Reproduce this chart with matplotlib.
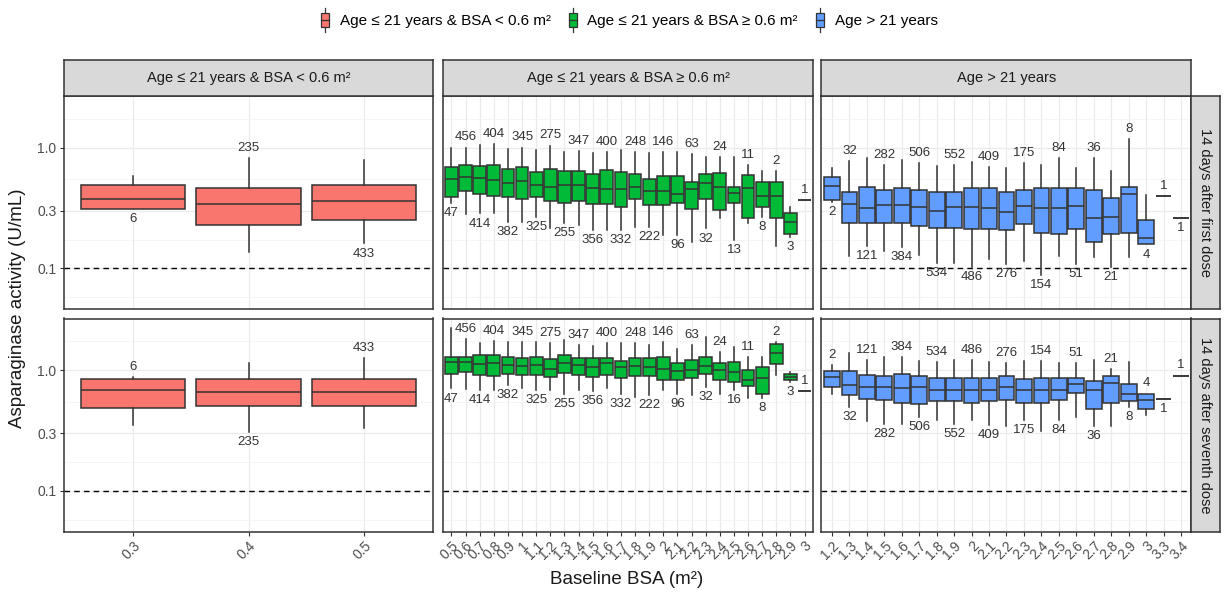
import numpy as np
import matplotlib
matplotlib.use('Agg')
import matplotlib.pyplot as plt
from matplotlib.patches import Patch, Rectangle
from matplotlib.lines import Line2D
from matplotlib.legend_handler import HandlerBase
from matplotlib.ticker import NullFormatter

plt.rcParams['font.family'] = ['Liberation Sans', 'DejaVu Sans']

groups = ['Age ≤ 21 years & BSA < 0.6 m²', 'Age ≤ 21 years & BSA ≥ 0.6 m²', 'Age > 21 years']
colors = ['#F8766D', '#00BA38', '#619CFF']
rows = ['14 days after first dose', '14 days after seventh dose']

# x categories (baseline BSA) per panel
bsa_1 = ['0.3', '0.4', '0.5']
bsa_2 = ['0.5', '0.6', '0.7', '0.8', '0.9', '1', '1.1', '1.2', '1.3', '1.4', '1.5', '1.6', '1.7',
         '1.8', '1.9', '2', '2.1', '2.2', '2.3', '2.4', '2.5', '2.6', '2.7', '2.8', '2.9', '3']
bsa_3 = ['1.2', '1.3', '1.4', '1.5', '1.6', '1.7', '1.8', '1.9', '2', '2.1', '2.2', '2.3', '2.4',
         '2.5', '2.6', '2.7', '2.8', '2.9', '3', '3.3', '3.4']

# sample sizes
n_1 = [6, 235, 433]
n_2_first = [47, 456, 414, 404, 382, 345, 325, 275, 255, 347, 356, 400, 332, 248, 222, 146, 96,
             63, 32, 24, 13, 11, 8, 2, 3, 1]
n_2_seventh = [47, 456, 414, 404, 382, 345, 325, 275, 255, 347, 356, 400, 332, 248, 222, 146, 96,
               63, 32, 24, 16, 11, 8, 2, 3, 1]
n_3 = [2, 32, 121, 282, 384, 506, 534, 552, 486, 409, 276, 175, 154, 84, 51, 36, 21, 8, 4, 1, 1]

# box stats: (whisker low, q1, median, q3, whisker high), U/mL
p1_first = [(0.31, 0.31, 0.375, 0.49, 0.58),
            (0.137, 0.228, 0.341, 0.466, 0.816),
            (0.161, 0.251, 0.364, 0.49, 0.79)]
p1_seventh = [(0.354, 0.487, 0.682, 0.837, 0.88),
              (0.308, 0.503, 0.661, 0.837, 1.15),
              (0.332, 0.503, 0.661, 0.837, 1.266)]

p2_first = [(0.35, 0.388, 0.546, 0.686, 1.0), (0.282, 0.44, 0.568, 0.713, 1.0),
            (0.285, 0.41, 0.557, 0.705, 1.05), (0.289, 0.397, 0.54, 0.713, 1.07),
            (0.243, 0.388, 0.506, 0.661, 0.97), (0.243, 0.373, 0.526, 0.686, 1.0),
            (0.268, 0.388, 0.493, 0.628, 0.957), (0.214, 0.364, 0.475, 0.665, 1.04),
            (0.236, 0.35, 0.493, 0.644, 0.926), (0.228, 0.364, 0.493, 0.644, 0.938),
            (0.207, 0.341, 0.463, 0.605, 0.897), (0.207, 0.341, 0.454, 0.648, 0.926),
            (0.207, 0.32, 0.451, 0.628, 0.957), (0.221, 0.378, 0.475, 0.608, 0.926),
            (0.221, 0.332, 0.437, 0.553, 0.897), (0.189, 0.332, 0.44, 0.582, 0.926),
            (0.189, 0.345, 0.413, 0.582, 0.926), (0.166, 0.312, 0.451, 0.519, 0.886),
            (0.214, 0.378, 0.506, 0.605, 0.842), (0.259, 0.304, 0.475, 0.612, 0.842),
            (0.171, 0.345, 0.423, 0.475, 0.842), (0.238, 0.259, 0.46, 0.589, 0.718),
            (0.268, 0.32, 0.397, 0.516, 0.64), (0.153, 0.259, 0.397, 0.522, 0.64),
            (0.183, 0.192, 0.243, 0.285, 0.324), (0.368, 0.368, 0.368, 0.368, 0.368)]
p2_seventh = [(0.705, 0.938, 1.158, 1.29, 2.22), (0.696, 0.969, 1.158, 1.29, 1.797),
              (0.682, 0.909, 1.114, 1.332, 1.686), (0.682, 0.897, 1.136, 1.332, 1.752),
              (0.751, 0.926, 1.10, 1.29, 1.718), (0.705, 0.909, 1.079, 1.25, 1.718),
              (0.682, 0.909, 1.10, 1.29, 1.718), (0.682, 0.88, 1.013, 1.226, 1.686),
              (0.64, 0.95, 1.136, 1.332, 1.774), (0.682, 0.909, 1.10, 1.25, 1.613),
              (0.674, 0.88, 1.066, 1.25, 1.582), (0.705, 0.909, 1.136, 1.25, 1.664),
              (0.64, 0.853, 1.052, 1.195, 1.664), (0.601, 0.892, 1.079, 1.25, 1.686),
              (0.62, 0.892, 1.066, 1.25, 1.613), (0.682, 0.826, 1.032, 1.29, 1.718),
              (0.64, 0.826, 0.987, 1.136, 1.484), (0.62, 0.853, 1.0, 1.21, 1.613),
              (0.727, 0.938, 1.079, 1.29, 1.891), (0.64, 0.826, 1.0, 1.15, 1.419),
              (0.682, 0.80, 0.969, 1.173, 1.562), (0.593, 0.737, 0.826, 1.0, 1.29),
              (0.593, 0.64, 0.853, 1.066, 1.29), (0.909, 1.121, 1.375, 1.633, 1.718),
              (0.80, 0.826, 0.88, 0.926, 0.969), (0.669, 0.669, 0.669, 0.669, 0.669)]

p3_first = [(0.357, 0.368, 0.484, 0.575, 0.674), (0.127, 0.238, 0.341, 0.432, 0.78),
            (0.153, 0.238, 0.316, 0.475, 0.816), (0.139, 0.238, 0.332, 0.445, 0.718),
            (0.15, 0.238, 0.332, 0.46, 0.79), (0.13, 0.224, 0.32, 0.445, 0.741),
            (0.11, 0.217, 0.30, 0.429, 0.705), (0.11, 0.217, 0.32, 0.429, 0.718),
            (0.103, 0.21, 0.32, 0.46, 0.765), (0.119, 0.21, 0.314, 0.46, 0.695),
            (0.108, 0.207, 0.291, 0.432, 0.674), (0.116, 0.231, 0.33, 0.445, 0.741),
            (0.088, 0.197, 0.314, 0.46, 0.718), (0.127, 0.191, 0.314, 0.46, 0.816),
            (0.108, 0.21, 0.33, 0.46, 0.674), (0.123, 0.164, 0.259, 0.445, 0.816),
            (0.103, 0.191, 0.268, 0.385, 0.64), (0.123, 0.197, 0.41, 0.475, 1.17),
            (0.158, 0.158, 0.18, 0.251, 0.402), (0.397, 0.397, 0.397, 0.397, 0.397),
            (0.263, 0.263, 0.263, 0.263, 0.263)]
p3_seventh = [(0.64, 0.727, 0.88, 0.981, 1.10), (0.496, 0.62, 0.751, 0.981, 1.393),
              (0.377, 0.582, 0.727, 0.92, 1.21), (0.361, 0.564, 0.727, 0.892, 1.274),
              (0.361, 0.536, 0.718, 0.926, 1.274), (0.41, 0.529, 0.727, 0.892, 1.195),
              (0.385, 0.557, 0.682, 0.853, 1.173), (0.361, 0.557, 0.682, 0.853, 1.21),
              (0.385, 0.536, 0.682, 0.864, 1.21), (0.35, 0.557, 0.682, 0.864, 1.173),
              (0.343, 0.571, 0.727, 0.892, 1.136), (0.385, 0.536, 0.682, 0.837, 1.195),
              (0.314, 0.536, 0.682, 0.869, 1.195), (0.385, 0.571, 0.682, 0.864, 1.136),
              (0.41, 0.648, 0.765, 0.864, 1.136), (0.343, 0.472, 0.682, 0.815, 1.21),
              (0.343, 0.536, 0.785, 0.892, 1.013), (0.496, 0.557, 0.64, 0.775, 1.173),
              (0.423, 0.472, 0.571, 0.64, 0.64), (0.582, 0.582, 0.582, 0.582, 0.582),
              (0.903, 0.903, 0.903, 0.903, 0.903)]

target = 0.1

edge = '#333333'
W, H = 1224, 594
fig = plt.figure(figsize=(W / 100, H / 100), dpi=100)

# panel geometry in pixels
lefts = [63.5, 443, 821.5]
pw = 370
tops = [96, 318.5]
ph = 213


def frac(x, y, w, h):
    return [x / W, 1 - (y + h) / H, w / W, h / H]


def draw_boxes(ax, stats, ns, color, below_first):
    bx = [dict(whislo=s[0], q1=s[1], med=s[2], q3=s[3], whishi=s[4]) for s in stats]
    pos = np.arange(1, len(stats) + 1)
    ax.bxp(bx, positions=pos, widths=0.9, patch_artist=True, showfliers=False, showcaps=False,
           manage_ticks=False,
           boxprops=dict(facecolor=color, edgecolor=edge, linewidth=1.1),
           medianprops=dict(color=edge, linewidth=1.1),
           whiskerprops=dict(color=edge, linewidth=1.1), zorder=3)
    for i, (s, n) in enumerate(zip(stats, ns)):
        below = (i % 2 == 0) == below_first
        if below:
            ax.annotate(str(n), (pos[i], s[0]), xytext=(0, -3), textcoords='offset points',
                        ha='center', va='top', fontsize=9.5, color='#333333', zorder=4)
        else:
            ax.annotate(str(n), (pos[i], s[4]), xytext=(0, 3), textcoords='offset points',
                        ha='center', va='bottom', fontsize=9.5, color='#333333', zorder=4)


panels = [
    [(p1_first, n_1, bsa_1, True), (p2_first, n_2_first, bsa_2, True), (p3_first, n_3, bsa_3, True)],
    [(p1_seventh, n_1, bsa_1, False), (p2_seventh, n_2_seventh, bsa_2, True), (p3_seventh, n_3, bsa_3, False)],
]

for r in range(2):
    for c in range(3):
        stats, ns, cats, below_first = panels[r][c]
        ax = fig.add_axes(frac(lefts[c], tops[r], pw, ph))
        ax.set_yscale('log')
        ax.set_ylim(0.046, 2.68)
        ax.set_xlim(0.4, len(cats) + 0.6)
        ax.set_yticks([0.1, 0.3, 1.0])
        ax.set_yticks([0.0577, 0.173, 0.548, 1.73], minor=True)
        ax.yaxis.set_minor_formatter(NullFormatter())
        ax.set_xticks(np.arange(1, len(cats) + 1))
        ax.grid(True, which='major', color='#EBEBEB', linewidth=0.9, zorder=0)
        ax.grid(True, which='minor', axis='y', color='#F2F2F2', linewidth=0.5, zorder=0)
        ax.set_axisbelow(True)
        ax.tick_params(which='minor', length=0)
        if c == 0:
            ax.set_yticklabels(['0.1', '0.3', '1.0'])
            ax.tick_params(axis='y', length=3, color=edge, labelsize=10, labelcolor='#4D4D4D', pad=2)
        else:
            ax.tick_params(axis='y', length=0, labelleft=False)
        if r == 1:
            ax.set_xticklabels(cats, rotation=45, ha='right', rotation_mode='anchor')
            ax.tick_params(axis='x', length=3, color=edge, labelsize=10, labelcolor='#4D4D4D', pad=2)
        else:
            ax.tick_params(axis='x', length=0, labelbottom=False)
        for sp in ax.spines.values():
            sp.set_color(edge)
            sp.set_linewidth(1.1)
        ax.axhline(target, color='black', linewidth=1.0, linestyle=(0, (4, 3)), zorder=2)
        draw_boxes(ax, stats, ns, colors[c], below_first)

# strips
def strip(rect, text, rot=0):
    sax = fig.add_axes(rect)
    sax.set_facecolor('#D9D9D9')
    sax.set_xticks([])
    sax.set_yticks([])
    for sp in sax.spines.values():
        sp.set_color(edge)
        sp.set_linewidth(1.1)
    sax.text(0.5, 0.5, text, ha='center', va='center', rotation=rot, fontsize=10.5,
             color='#1A1A1A', transform=sax.transAxes)


for c in range(3):
    strip(frac(lefts[c], 60, pw, 36), groups[c])
for r in range(2):
    strip(frac(1191, tops[r], 29, ph), rows[r], rot=-90)


# legend with boxplot glyph keys
class BoxKey(HandlerBase):
    def create_artists(self, legend, orig, xd, yd, width, height, fontsize, trans):
        x0, y0 = -xd, -yd
        cx = x0 + width / 2
        w = width * 0.6
        wl = Line2D([cx, cx], [y0 - height * 0.2, y0 + height * 1.2], color=edge, lw=0.9, transform=trans)
        box = Rectangle((cx - w / 2, y0 + height * 0.1), w, height * 0.8, facecolor=orig.get_facecolor(),
                        edgecolor=edge, lw=0.9, transform=trans)
        med = Line2D([cx - w / 2, cx + w / 2], [y0 + height / 2] * 2, color=edge, lw=0.9, transform=trans)
        return [wl, box, med]


handles = [Patch(facecolor=col, edgecolor=edge) for col in colors]
fig.legend(handles, groups, loc='center', bbox_to_anchor=(628 / W, 1 - 20 / H), ncol=3, frameon=False,
           handler_map={Patch: BoxKey()}, fontsize=11, handlelength=0.9, handleheight=1.3,
           handletextpad=0.5, columnspacing=1.0)

fig.text(18 / W, 1 - 308 / H, 'Asparaginase activity (U/mL)', rotation=90, ha='center', va='center',
         fontsize=13.5, color='#1A1A1A')
fig.text(627 / W, 1 - 580 / H, 'Baseline BSA (m²)', ha='center', va='center', fontsize=13.5, color='#1A1A1A')

fig.savefig('out.png', dpi=100)
